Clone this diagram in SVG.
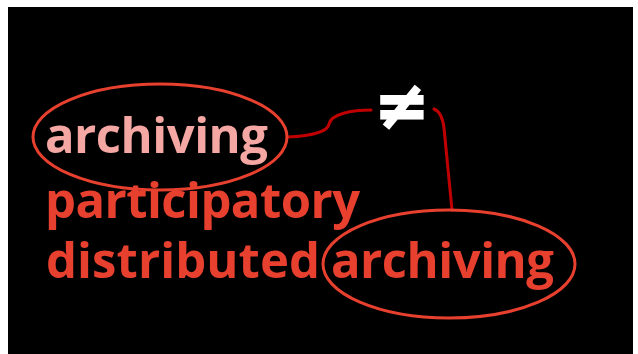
<svg xmlns="http://www.w3.org/2000/svg" width="638" height="354" viewBox="0 0 638 354">
<style>
.w{font-family:"Open Sans","Liberation Sans",sans-serif;font-weight:700;font-size:49px}
.red{fill:#e8402f}
.pink{fill:#f5a7a3}
.ell{fill:none;stroke:#e8402f;stroke-width:3}
.con{fill:none;stroke:#c00000;stroke-width:3;stroke-linecap:round}
</style>
<rect x="0" y="0" width="638" height="354" fill="#ffffff"/>
<rect x="8" y="7" width="625" height="347" fill="#000000"/>
<g id="connectors">
<path class="con" d="M287,137 C310,136 328,132 329,124 C331,114 352,110 371,110"/>
<path class="con" d="M434,109 Q442,112 444,128 L452,210"/>
</g>
<g id="node-archiving-top">
<ellipse class="ell" cx="160" cy="137" rx="127" ry="53"/>
<text class="w pink" x="45" y="153" textLength="223" lengthAdjust="spacing">archiving</text>
</g>
<g id="node-participatory">
<text class="w red" x="45" y="218" textLength="315" lengthAdjust="spacing">participatory</text>
</g>
<g id="node-distributed">
<text class="w red" x="46" y="278" textLength="274" lengthAdjust="spacing">distributed</text>
</g>
<g id="node-archiving-bottom">
<ellipse class="ell" cx="449" cy="264" rx="126" ry="54"/>
<text class="w red" x="331" y="278" textLength="223" lengthAdjust="spacing">archiving</text>
</g>
<g id="node-neq">
<text x="402" y="128" text-anchor="middle" style="font-family:'DejaVu Sans',sans-serif;font-weight:700;font-size:66px;fill:#ffffff;stroke:#ffffff;stroke-width:2">≠</text>
</g>
</svg>
